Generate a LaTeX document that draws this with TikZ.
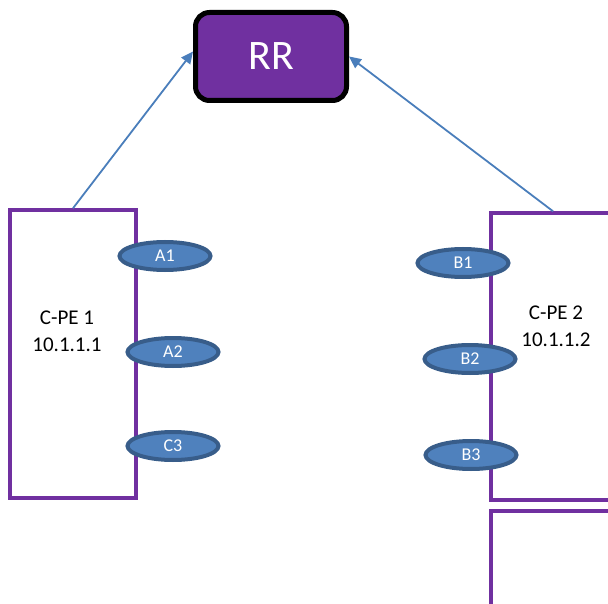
\documentclass[tikz,border=0pt]{standalone}
\usepackage{fontspec}
\setmainfont{Carlito}
\usetikzlibrary{shapes.geometric, arrows.meta, positioning}
\definecolor{rrpurple}{HTML}{7030A0}
\definecolor{portfill}{HTML}{4F81BD}
\definecolor{portdraw}{HTML}{385D8A}
\definecolor{linkblue}{HTML}{4A7EBB}
\tikzset{
	rrbox/.style={rectangle, draw=black, fill=rrpurple, line width=5pt, rounded corners=14pt, minimum width=151pt, minimum height=88pt, text=white, font=\fontsize{42}{46}\selectfont},
	pebox/.style={rectangle, draw=rrpurple, line width=3.5pt, fill=white},
	port/.style={ellipse, draw=portdraw, fill=portfill, line width=4pt, minimum width=91pt, minimum height=28pt, inner sep=0pt, text=white, font=\fontsize{18}{20}\selectfont},
	pelabel/.style={align=center, font=\fontsize{21}{27}\selectfont},
	link/.style={draw=linkblue, line width=1.8pt, -{Triangle[length=12pt, width=11pt]}}
}

\begin{document}
\begin{tikzpicture}[x=1pt, y=-1pt]
	\useasboundingbox (0,0) rectangle (608,604);
	\clip (0,0) rectangle (608,604);

	% route reflector
	\node[rrbox] (rr) at (271,56.5) {RR};

	% provider edge boxes
	\node[pebox, minimum width=126pt, minimum height=288pt] (cpe1) at (73,354) {};
	\node[pebox, minimum width=124pt, minimum height=287pt] (cpe2) at (553,356.5) {};
	\node[pebox, minimum width=124pt, minimum height=100pt] (cpe3) at (553,561) {};

	\node[pelabel] (cpe1lbl) at (67,331) {C-PE 1\\10.1.1.1};
	\node[pelabel] (cpe2lbl) at (556,326) {C-PE 2\\10.1.1.2};

	% attachment circuits
	\node[port] (a1) at (165,256) {A1};
	\node[port] (a2) at (173,352) {A2};
	\node[port] (c3) at (173,446) {C3};
	\node[port] (b1) at (463,263) {B1};
	\node[port] (b2) at (470,359) {B2};
	\node[port] (b3) at (471,455) {B3};

	% sessions to the RR
	\draw[link] (cpe1.north) -- ([yshift=5pt]rr.west);
	\draw[link] (cpe2.north) -- (rr.east);
\end{tikzpicture}
\end{document}
